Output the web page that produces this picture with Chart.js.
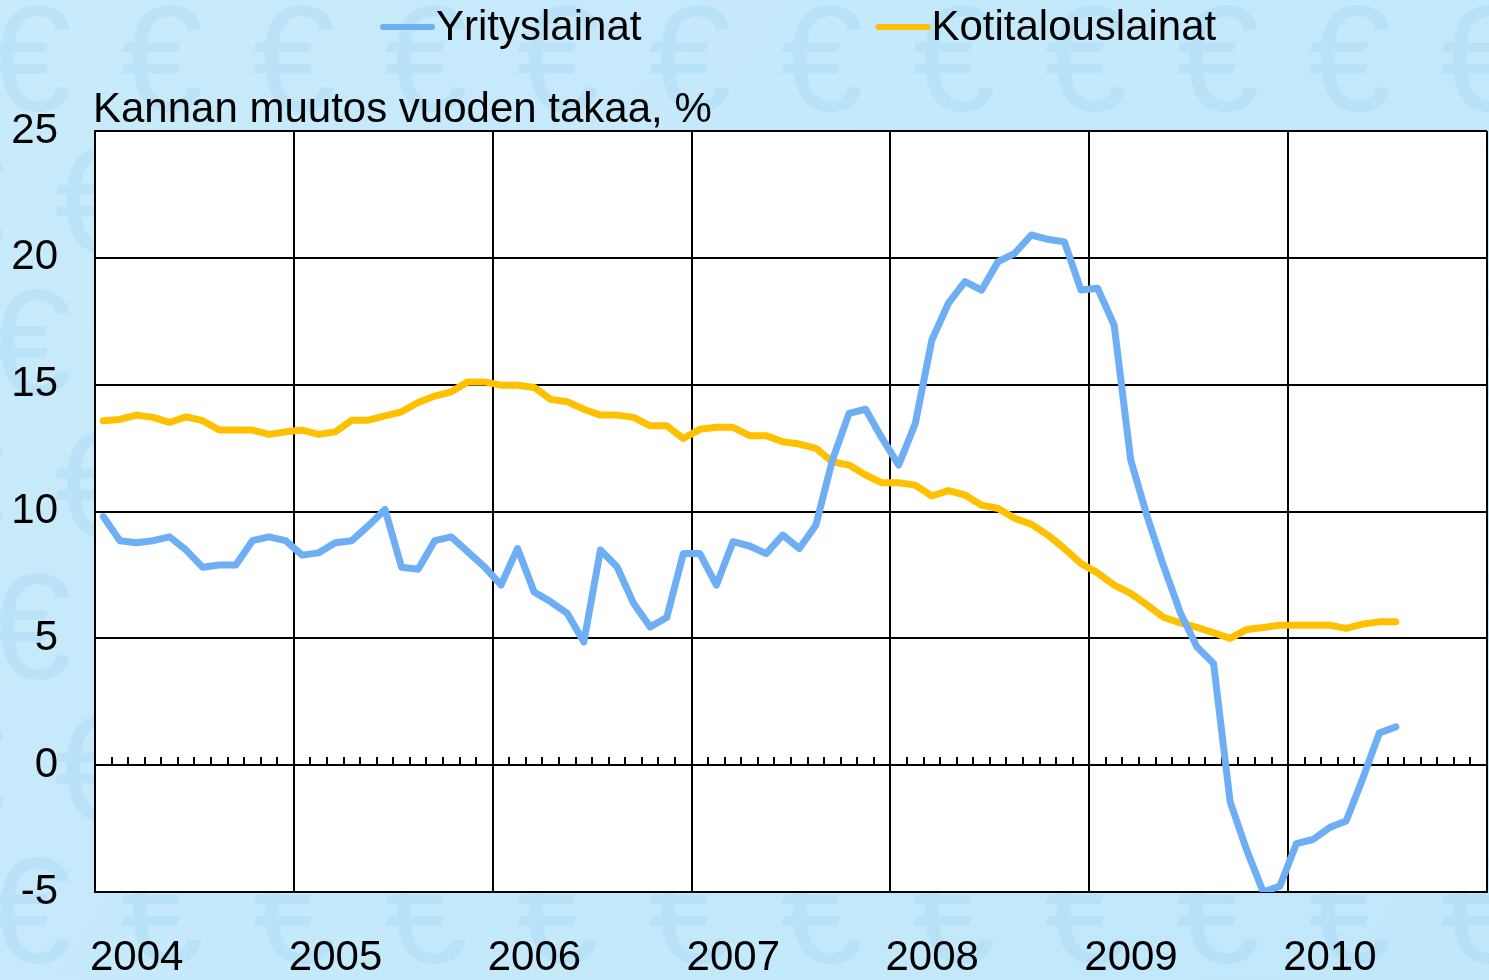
<!DOCTYPE html>
<html>
<head>
<meta charset="utf-8">
<title>Yritys- ja kotitalouslainat</title>
<script src="https://cdn.jsdelivr.net/npm/chart.js@4.4.1/dist/chart.umd.min.js"></script>
<style>
  html, body { margin: 0; padding: 0; background: #c4e9fb; }
  #wrap { width: 1489px; height: 980px; }
</style>
</head>
<body>
<div id="wrap"><canvas id="lainat" width="1489" height="980"></canvas></div>
<script>
// vuodet (x-akselin tekstit), kuukausisarjat tammikuu 2004 - heinäkuu 2010
const years = ['2004', '2005', '2006', '2007', '2008', '2009', '2010'];
const yTicks = [-5, 0, 5, 10, 15, 20, 25];
const yAxisTitle = 'Kannan muutos vuoden takaa, %';

const yrityslainat = [
  9.8, 8.85, 8.77, 8.85, 9.0, 8.48, 7.8, 7.89, 7.89, 8.85, 9.0, 8.85,
  8.28, 8.37, 8.77, 8.85, 9.44, 10.08, 7.8, 7.72, 8.85, 9.0, 8.41, 7.82,
  7.1, 8.54, 6.83, 6.44, 5.98, 4.86, 8.48, 7.82, 6.38, 5.45, 5.82, 8.34,
  8.34, 7.1, 8.81, 8.64, 8.34, 9.07, 8.54, 9.46, 12.03, 13.87, 14.03, 12.88,
  11.83, 13.47, 16.76, 18.21, 19.06, 18.73, 19.85, 20.18, 20.9, 20.73, 20.63, 18.73,
  18.8, 17.35, 12.03, 9.79, 7.82, 6.0, 4.66, 4.01, -1.45, -3.35, -5.0, -4.77,
  -3.09, -2.93, -2.46, -2.2, -0.53, 1.27, 1.51
];

const kotitalouslainat = [
  13.58, 13.63, 13.8, 13.71, 13.51, 13.73, 13.58, 13.21, 13.21, 13.21, 13.04, 13.14,
  13.21, 13.04, 13.14, 13.6, 13.6, 13.77, 13.93, 14.3, 14.55, 14.72, 15.11, 15.11,
  14.98, 14.98, 14.89, 14.42, 14.33, 14.03, 13.8, 13.8, 13.71, 13.38, 13.38, 12.88,
  13.24, 13.32, 13.32, 12.99, 12.99, 12.75, 12.66, 12.49, 11.96, 11.83, 11.44, 11.13,
  11.13, 11.04, 10.61, 10.82, 10.65, 10.25, 10.12, 9.73, 9.5, 9.07, 8.54, 7.95,
  7.58, 7.1, 6.77, 6.31, 5.82, 5.61, 5.43, 5.22, 5.0, 5.35, 5.43, 5.52,
  5.52, 5.52, 5.52, 5.39, 5.56, 5.65, 5.65
];

const FONT = '"Liberation Sans", Arial, sans-serif';
const monthCount = years.length * 12; // 7 vuotta akselilla

// piste keskelle kuukautta
const toPoints = arr => arr.map((v, i) => ({ x: i + 0.5, y: v }));

const bgPlugin = {
  id: 'euroBackground',
  beforeDraw(chart) {
    const ctx = chart.ctx;
    const a = chart.chartArea;
    ctx.save();
    const g = ctx.createLinearGradient(0, 0, chart.width, chart.height);
    g.addColorStop(0, '#c8ebfb');
    g.addColorStop(1, '#c0e7fa');
    ctx.fillStyle = g;
    ctx.fillRect(0, 0, chart.width, chart.height);
    ctx.font = '150px ' + FONT;
    ctx.fillStyle = 'rgba(140, 200, 236, 0.22)';
    ctx.textAlign = 'center';
    ctx.textBaseline = 'middle';
    for (let row = 0; row < 8; row++) {
      for (let col = -1; col < 13; col++) {
        ctx.fillText('€', col * 132 + (row % 2) * 66 + 30, row * 142 + 70);
      }
    }
    ctx.fillStyle = '#ffffff';
    ctx.fillRect(a.left, a.top, a.right - a.left, a.bottom - a.top);
    ctx.restore();
  }
};

// kuukausiväkäset nollaviivalle
const zeroTicksPlugin = {
  id: 'zeroTicks',
  beforeDatasetsDraw(chart) {
    const ctx = chart.ctx;
    const xs = chart.scales.x, ys = chart.scales.y;
    const y0 = Math.round(ys.getPixelForValue(0));
    ctx.save();
    ctx.strokeStyle = '#000';
    ctx.lineWidth = 2;
    ctx.beginPath();
    for (let m = 0; m <= monthCount; m++) {
      const px = Math.round(xs.getPixelForValue(m));
      ctx.moveTo(px, y0);
      ctx.lineTo(px, y0 - 8);
    }
    ctx.stroke();
    ctx.restore();
  }
};

const legendPlugin = {
  id: 'topLegend',
  afterDraw(chart) {
    const ctx = chart.ctx;
    ctx.save();
    ctx.font = '42px ' + FONT;
    ctx.fillStyle = '#000';
    ctx.textBaseline = 'middle';
    ctx.textAlign = 'left';
    ctx.fillText(yAxisTitle, 93, 110);

    let x = 380;
    const y = 27;
    chart.data.datasets.forEach(ds => {
      ctx.strokeStyle = ds.borderColor;
      ctx.lineWidth = 6;
      ctx.lineCap = 'round';
      ctx.beginPath();
      ctx.moveTo(x + 3, y);
      ctx.lineTo(x + 52, y);
      ctx.stroke();
      ctx.fillStyle = '#000';
      ctx.fillText(ds.label, x + 56, y + 1);
      x += 56 + ctx.measureText(ds.label).width + 234;
    });
    ctx.restore();
  }
};

new Chart(document.getElementById('lainat'), {
  type: 'line',
  data: {
    datasets: [
      {
        label: 'Yrityslainat',
        data: toPoints(yrityslainat),
        borderColor: '#6eaef5',
        borderWidth: 7,
        pointRadius: 0,
        borderJoinStyle: 'round',
        borderCapStyle: 'round',
        tension: 0
      },
      {
        label: 'Kotitalouslainat',
        data: toPoints(kotitalouslainat),
        borderColor: '#ffc000',
        borderWidth: 7,
        pointRadius: 0,
        borderJoinStyle: 'round',
        borderCapStyle: 'round',
        tension: 0
      }
    ]
  },
  options: {
    responsive: false,
    animation: false,
    devicePixelRatio: 1,
    layout: { padding: { top: 131, right: 2, left: 0, bottom: 0 } },
    plugins: {
      legend: { display: false },
      tooltip: { enabled: false }
    },
    scales: {
      x: {
        type: 'linear',
        min: 0,
        max: monthCount,
        afterFit(scale) {
          scale.height = 88;
          scale.paddingLeft = 0;
          scale.paddingRight = 0;
        },
        afterBuildTicks(scale) {
          scale.ticks = years.concat(['']).map((y, i) => ({ value: i * 12 }));
        },
        ticks: {
          autoSkip: false,
          maxRotation: 0,
          align: 'start',
          labelOffset: -5,
          padding: 41,
          color: '#000',
          font: { family: FONT, size: 42 },
          callback: (v) => years[v / 12] || ''
        },
        grid: { color: '#000', lineWidth: 2, drawTicks: false },
        border: { color: '#000', width: 2 }
      },
      y: {
        min: yTicks[0],
        max: yTicks[yTicks.length - 1],
        afterFit(scale) { scale.width = 95; },
        ticks: {
          stepSize: 5,
          padding: 37,
          color: '#000',
          font: { family: FONT, size: 42 }
        },
        grid: { color: '#000', lineWidth: 2, drawTicks: false },
        border: { color: '#000', width: 2 }
      }
    }
  },
  plugins: [bgPlugin, zeroTicksPlugin, legendPlugin]
});
</script>
</body>
</html>
